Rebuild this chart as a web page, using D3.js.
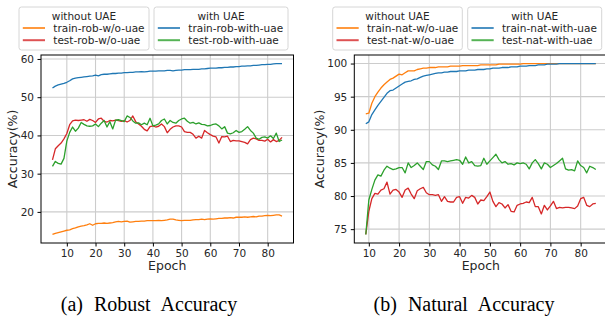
<!DOCTYPE html>
<html><head><meta charset="utf-8">
<script src="https://cdn.jsdelivr.net/npm/d3@7"></script>
<style>html,body{margin:0;padding:0;background:#fff;} svg{display:block;}</style>
</head><body><svg id="c" width="605" height="320"></svg>
<script>
// ---------- data ----------
const robFirstEpoch = 5;
const natFirstEpoch = 9;
const xTickValues = [10, 20, 30, 40, 50, 60, 70, 80];
const robYTicks = [20, 30, 40, 50, 60];
const natYTicks = [75, 80, 85, 90, 95, 100];

const robTrainWo = [14.1,14.4,14.6,14.8,15.0, 15.2,15.3,15.6,15.8,16.1, 16.3,16.4,16.6,16.9,16.5,
  16.9,17.0,17.0,17.1,17.0, 17.1,17.2,17.4,17.5,17.4, 17.5,17.6,17.3,17.4,17.5, 17.5,17.6,17.6,17.7,17.7,
  17.7,17.7,17.8,17.7,17.8, 17.9,18.1,18.1,17.9,17.8, 17.7,17.8,17.8,17.8,17.9, 18.0,18.0,18.1,18.0,18.1,
  18.2,18.1,18.2,18.3,18.3, 18.4,18.4,18.5,18.4,18.6, 18.6,18.6,18.7,18.6,18.7, 18.8,18.7,18.9,18.9,19.0,
  19.1,19.0,19.1,19.2,19.2, 18.9];
const robTestWo = [33.6,36.5,37.3,38.0,39.1, 40.5,42.8,43.8,44.0,43.9, 44.0,44.1,43.7,44.2,43.9,
  43.4,44.3,44.5,43.7,43.5, 43.9,43.8,44.0,43.9,43.7, 43.9,43.5,43.9,45.1,43.6, 43.0,42.4,41.6,41.2,42.3,
  42.5,42.2,42.4,43.0,42.3, 40.7,41.6,42.2,42.5,42.5, 42.2,41.0,40.8,40.8,40.3, 39.3,39.8,39.3,41.3,40.7,
  40.2,39.8,39.6,38.0,39.7, 39.6,39.8,38.4,38.7,38.6, 38.6,38.4,38.2,37.8,38.9, 39.3,39.1,38.7,38.7,38.5,
  39.0,38.3,38.9,38.4,38.7, 39.5];
const robTrainWith = [52.4,52.9,53.2,53.4,53.6, 53.9,54.3,54.8,55.0,55.1, 55.2,55.3,55.4,55.5,55.6,
  55.8,55.6,55.9,56.0,56.0, 56.1,56.2,56.2,56.3,56.3, 56.4,56.4,56.5,56.5,56.6, 56.6,56.7,56.6,56.7,56.8,
  56.8,56.8,56.9,56.9,56.9, 57.0,57.0,56.9,57.0,57.1, 57.1,57.2,57.2,57.2,57.3, 57.3,57.3,57.4,57.4,57.5,
  57.6,57.6,57.6,57.7,57.7, 57.8,57.8,57.9,57.9,58.0, 58.0,58.1,58.1,58.2,58.2, 58.3,58.3,58.4,58.5,58.5,
  58.6,58.6,58.7,58.8,58.8, 58.8];
const robTestWith = [31.9,33.2,32.7,32.5,34.0, 38.5,40.8,42.2,41.1,41.9, 43.4,42.9,42.5,42.4,42.5,
  43.0,42.3,43.2,43.9,42.2, 43.6,41.7,44.0,44.1,43.9, 43.6,45.1,44.7,43.8,43.2, 43.3,42.8,43.2,42.8,44.5,
  42.5,42.7,43.0,43.9,44.3, 43.0,43.9,43.4,43.2,43.9, 44.3,44.5,43.7,43.2,43.4, 43.0,43.3,42.9,42.8,42.5,
  42.6,42.9,43.0,42.5,41.7, 42.3,40.6,40.4,40.7,41.3, 40.8,41.0,41.6,42.3,41.3, 40.6,39.3,39.0,39.5,39.6,
  39.3,39.9,39.2,40.6,38.4, 38.8];

const natTrainWo = [92.4, 92.5,94.0,95.0,95.7,96.3, 96.8,97.2,97.6,97.8,98.1, 98.4,98.3,98.6,98.9,98.9,
  98.9,99.1,99.2,99.3,99.3, 99.4,99.4,99.4,99.5,99.5, 99.5,99.5,99.6,99.6,99.6, 99.6,99.7,99.7,99.7,99.7,
  99.7,99.7,99.8,99.8,99.8, 99.8,99.8,99.8,99.9,99.9, 99.9,99.9,99.9,99.9,99.9, 99.9,100,100,100,100,
  100,100,100,100,100, 100,100,100,100,100, 100,100,100,100,100, 100,100,100,100,100, 100];
const natTestWo = [74.2, 77.7,79.6,80.4,80.3,80.9, 81.1,82.1,80.3,80.9,81.0, 80.6,79.8,80.9,81.2,80.3,
  79.6,80.8,81.1,81.3,80.5, 80.2,80.2,80.1,80.2,79.2, 79.9,79.2,79.1,79.1,79.8, 79.9,78.9,79.8,79.7,80.1,
  79.8,78.8,79.4,79.3,79.9, 80.6,79.2,78.4,79.0,78.8, 78.2,78.7,77.7,77.6,78.6, 78.8,78.9,79.1,79.0,79.8,
  78.4,78.4,77.3,78.6,77.9, 78.5,79.2,78.1,78.3,78.2, 78.3,78.3,78.2,78.1,78.5, 79.6,79.8,78.6,78.4,78.8, 78.9];
const natTrainWith = [90.9, 91.2,92.3,93.0,93.7,94.3, 94.9,95.5,95.9,96.0,96.3, 96.6,96.9,97.2,97.3,97.4,
  97.6,97.7,97.9,98.1,98.2, 98.3,98.4,98.5,98.6,98.6, 98.7,98.7,98.8,98.8,98.8, 98.9,98.9,98.9,99.0,99.0,
  99.0,99.1,99.1,99.1,99.2, 99.2,99.3,99.3,99.3,99.4, 99.4,99.4,99.5,99.5,99.5, 99.6,99.6,99.6,99.7,99.7,
  99.7,99.8,99.8,99.8,99.9, 99.9,99.9,99.9,100,100, 100,100,100,100,100, 100,100,100,100,100, 100];
const natTestWith = [74.2, 79.4,81.0,82.4,83.2,83.0, 83.9,84.5,84.2,84.0,84.1, 84.3,84.3,83.5,85.0,84.3,
  84.6,85.0,84.5,84.0,85.2, 85.2,84.7,84.5,84.0,85.3, 85.3,85.2,85.3,85.4,85.5, 85.4,84.8,85.9,85.0,85.2,
  84.6,84.5,84.6,85.7,84.8, 85.3,85.8,86.3,85.5,85.0, 85.2,84.8,84.9,84.7,85.0, 84.9,85.0,84.8,84.1,85.0,
  85.5,84.9,84.1,85.0,84.8, 84.3,84.6,84.9,85.3,85.7, 84.1,83.9,84.0,83.8,85.3, 84.6,84.3,83.5,84.5,84.3, 84.0];

const robLabels = ["train-rob-w/o-uae", "test-rob-w/o-uae", "train-rob-with-uae", "test-rob-with-uae"];
const natLabels = ["train-nat-w/o-uae", "test-nat-w/o-uae", "train-nat-with-uae", "test-nat-with-uae"];
const legendTitles = ["without UAE", "with UAE"];
const captions = ["(a) Robust Accuracy", "(b) Natural Accuracy"];
const xLabel = "Epoch";
const yLabel = "Accuracy(%)";

// ---------- styles ----------
const C = {orange: "#ff7f0e", red: "#d62728", blue: "#1f77b4", green: "#2ca02c"};
const SANS = "DejaVu Sans";

const svg = d3.select("#c");

function panel(cfg) {
  const {x0, x1, y0, y1, first, series, yTicks, labels, legendBoxes, caption, capX, ylabX} = cfg;
  const n = series[0].values.length;
  const epochs = series[0].values.map((_, i) => first + i);
  const allV = series.flatMap(s => s.values);
  const xmin = first, xmax = first + n - 1;
  const vmin = d3.min(allV), vmax = d3.max(allV);
  const px = (xmax - xmin) * 0.05, py = (vmax - vmin) * 0.05;
  const x = d3.scaleLinear().domain([xmin - px, xmax + px]).range([x0, x1]);
  const y = d3.scaleLinear().domain([vmin - py, vmax + py]).range([y1, y0]);

  const g = svg.append("g");
  // grid
  g.append("g").selectAll("line").data(xTickValues).join("line")
    .attr("x1", d => x(d)).attr("x2", d => x(d)).attr("y1", y0).attr("y2", y1)
    .attr("stroke", "#cccccc").attr("stroke-width", 1.1);
  g.append("g").selectAll("line").data(yTicks).join("line")
    .attr("x1", x0).attr("x2", x1).attr("y1", d => y(d)).attr("y2", d => y(d))
    .attr("stroke", "#cccccc").attr("stroke-width", 1.1);

  // lines
  const line = d3.line().x((d, i) => x(epochs[i])).y(d => y(d));
  series.forEach(s => {
    g.append("path").datum(s.values).attr("d", line)
      .attr("fill", "none").attr("stroke", s.color).attr("stroke-width", 1.3)
      .attr("stroke-linejoin", "round");
  });

  // spines
  g.append("rect").attr("x", x0).attr("y", y0).attr("width", x1 - x0).attr("height", y1 - y0)
    .attr("fill", "none").attr("stroke", "#000").attr("stroke-width", 1);

  // axes
  const ax = g.append("g").attr("transform", `translate(0,${y1})`)
    .call(d3.axisBottom(x).tickValues(xTickValues).tickSize(3.5).tickPadding(3).tickFormat(d3.format("d")));
  const ay = g.append("g").attr("transform", `translate(${x0},0)`)
    .call(d3.axisLeft(y).tickValues(yTicks).tickSize(3.5).tickPadding(3.5).tickFormat(d3.format("d")));
  [ax, ay].forEach(a => {
    a.select(".domain").remove();
    a.selectAll("line").attr("stroke", "#000");
    a.selectAll("text").attr("font-family", SANS).attr("font-size", 10.5).attr("fill", "#262626");
  });

  // axis labels
  g.append("text").attr("x", (x0 + x1) / 2).attr("y", 269.5)
    .attr("text-anchor", "middle").attr("font-family", SANS).attr("font-size", 12.5)
    .attr("fill", "#262626").text(xLabel);
  g.append("text").attr("transform", `translate(${ylabX},${(y0 + y1) / 2}) rotate(-90)`)
    .attr("text-anchor", "middle").attr("font-family", SANS).attr("font-size", 12.5)
    .attr("fill", "#262626").text(yLabel);

  // legends
  legendBoxes.forEach((b, k) => {
    const lg = g.append("g");
    lg.append("rect").attr("x", b.x).attr("y", 7).attr("width", b.w).attr("height", 43)
      .attr("rx", 2.5).attr("fill", "#fff").attr("fill-opacity", 0.8)
      .attr("stroke", "#d6d6d6").attr("stroke-width", 1);
    lg.append("text").attr("x", b.x + b.w / 2).attr("y", 19.7).attr("text-anchor", "middle")
      .attr("font-family", SANS).attr("font-size", 10.5).attr("fill", "#262626").text(legendTitles[k]);
    [0, 1].forEach(j => {
      const s = series[k * 2 + j];
      const ly = 28 + j * 12.2;
      lg.append("line").attr("x1", b.x + 3.8).attr("x2", b.x + 26).attr("y1", ly).attr("y2", ly)
        .attr("stroke", s.color).attr("stroke-opacity", 0.8).attr("stroke-width", 2);
      lg.append("text").attr("x", b.x + 34.3).attr("y", ly + 3.7)
        .attr("font-family", SANS).attr("font-size", 10.5).attr("fill", "#262626").text(labels[k * 2 + j]);
    });
  });

  // caption
  g.append("text").attr("x", capX).attr("y", 311).attr("text-anchor", "middle")
    .attr("font-family", "Liberation Serif").attr("font-size", 20).attr("word-spacing", 6)
    .attr("fill", "#000").text(caption);
}

panel({
  x0: 41, x1: 293.5, y0: 55, y1: 243, first: robFirstEpoch,
  series: [
    {values: robTrainWo, color: C.orange},
    {values: robTestWo, color: C.red},
    {values: robTrainWith, color: C.blue},
    {values: robTestWith, color: C.green}
  ],
  yTicks: robYTicks, labels: robLabels,
  legendBoxes: [{x: 19, w: 130}, {x: 154, w: 134}],
  caption: captions[0], capX: 149, ylabX: 16.5
});
panel({
  x0: 354.3, x1: 607.3, y0: 55, y1: 243, first: natFirstEpoch,
  series: [
    {values: natTrainWo, color: C.orange},
    {values: natTestWo, color: C.red},
    {values: natTrainWith, color: C.blue},
    {values: natTestWith, color: C.green}
  ],
  yTicks: natYTicks, labels: natLabels,
  legendBoxes: [{x: 332.7, w: 129.6}, {x: 467.7, w: 134}],
  caption: captions[1], capX: 464, ylabX: 323.5
});
</script></body></html>
